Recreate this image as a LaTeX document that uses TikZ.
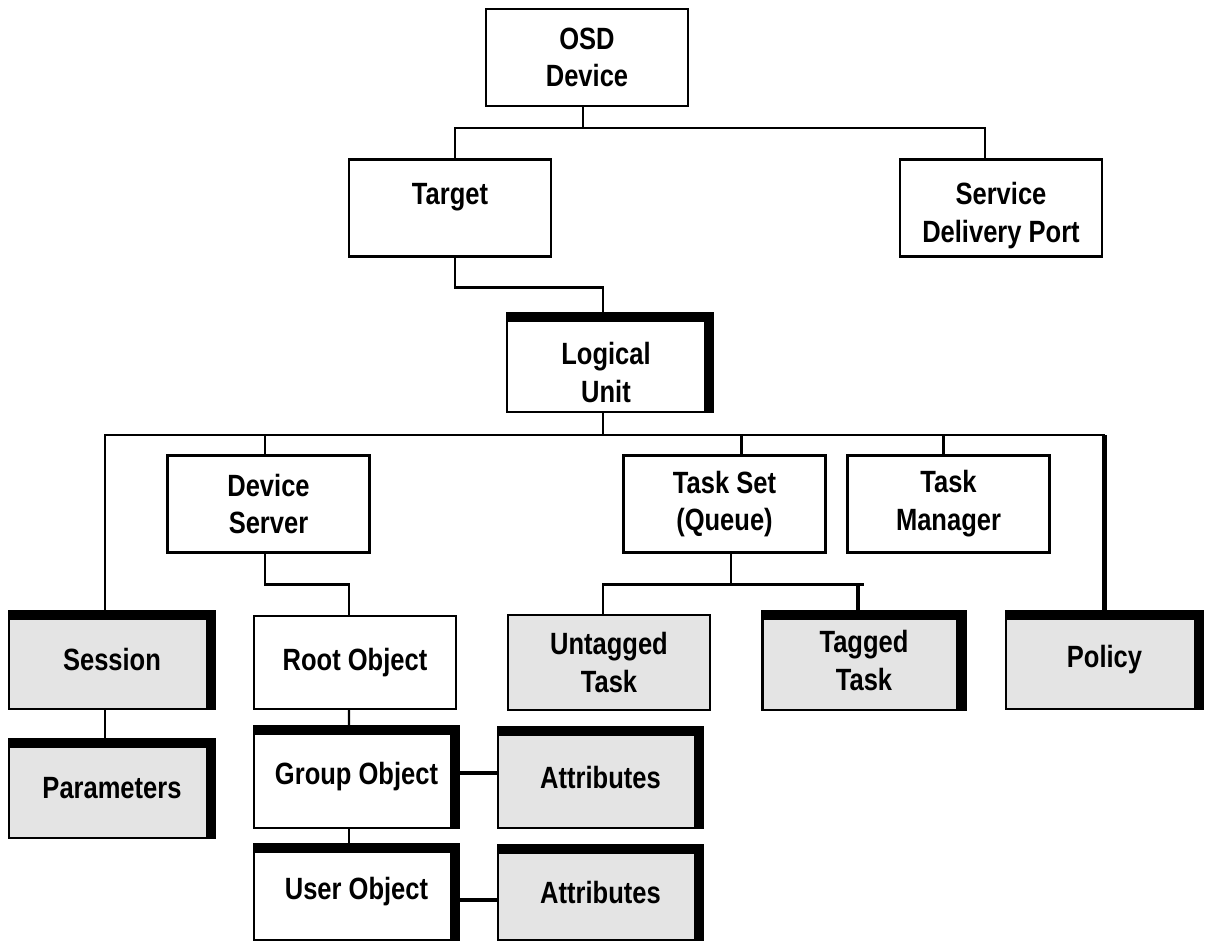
\documentclass[tikz,border=0pt]{standalone}
\usepackage{fontspec}
\setmainfont{Liberation Sans}[FakeStretch=0.83]
\usetikzlibrary{positioning,calc}
\definecolor{boxgrey}{HTML}{E4E4E4}

\begin{document}
\begin{tikzpicture}[
		x=0.02cm,y=-0.02cm,
		every node/.append style={align=center,font=\bfseries\fontsize{17.5}{21.5}\selectfont},
		box/.style={draw,line width=1.4pt,inner sep=0pt,minimum width=4.04cm,minimum height=1.94cm},
		grey/.style={fill=boxgrey},
		heavy/.style={path picture={
			\fill[black] (path picture bounding box.north west) rectangle ([yshift=-0.18cm]path picture bounding box.north east);
			\fill[black] ([xshift=-0.18cm,yshift=-0.12cm]path picture bounding box.north east) rectangle (path picture bounding box.south east);}},
		link/.style={line width=1.4pt},
		fatlink/.style={line width=2.6pt}
	]
	\useasboundingbox (0,0) rectangle (1205,945);

	\node[box] (osd) at (587,57.5) {OSD\\Device};
	\node[box,label={[yshift=0.21cm]center:Target}] (target) at (450,208) {};
	\node[box,label={[yshift=-0.15cm]center:{Service\\Delivery Port}}] (sdp) at (1001,208) {};
	\node[box,heavy,minimum width=4.12cm,minimum height=1.98cm,
		label={[yshift=-0.2cm,xshift=-0.08cm]center:{Logical\\Unit}}] (lu) at (610,362.5) {};

	\node[box] (devsrv) at (268.5,504) {Device\\Server};
	\node[box] (taskset) at (724.5,504) {Task Set\\(Queue)};
	\node[box] (taskmgr) at (948.5,504) {Task\\Manager};

	\node[box,grey,heavy,minimum width=4.12cm,minimum height=1.96cm] (session) at (112,660) {Session};
	\node[box,grey,heavy,minimum width=4.12cm,minimum height=1.98cm] (params) at (112,788.5) {Parameters};
	\node[box,minimum height=1.86cm] (root) at (355,662.5) {Root Object};
	\node[box,heavy,minimum width=4.1cm,minimum height=2.04cm] (group) at (356.5,777) {Group Object};
	\node[box,heavy,minimum width=4.1cm,minimum height=1.92cm] (user) at (356.5,892) {User Object};
	\node[box,grey,heavy,minimum width=4.1cm,minimum height=2.02cm] (attr1) at (600.5,777.5) {Attributes};
	\node[box,grey,heavy,minimum width=4.1cm,minimum height=1.9cm] (attr2) at (600.5,892.5) {Attributes};
	\node[box,grey,minimum height=1.9cm] (untagged) at (609,662.5) {Untagged\\Task};
	\node[box,grey,heavy,minimum width=4.06cm,minimum height=1.98cm] (tagged) at (864,660.5) {Tagged\\Task};
	\node[box,grey,heavy,minimum width=3.94cm,minimum height=1.96cm] (policy) at (1104.5,660) {Policy};

	\draw[link] ([xshift=-0.08cm]osd.south) -- ++(0,21) -| ([xshift=0.1cm]target.north);
	\draw[link] ([xshift=-0.08cm]osd.south) ++(0,21) -| ([xshift=-0.32cm]sdp.north);
	\draw[link] ([xshift=0.1cm]target.south) -- ++(0,30) -| ([xshift=-0.14cm]lu.north);

	\draw[link] ([xshift=-0.14cm]lu.south) -- ++(0,22) coordinate (lubus);
	\foreach \n/\s in {session/-0.14,devsrv/-0.07,taskset/0.34,taskmgr/-0.1}
		\draw[link] (lubus) -| ([xshift=\s cm]\n.north);
	\draw[link] (lubus) -- (lubus -| policy.north);
	\draw[fatlink] (lubus -| policy.north) -- (policy.north);

	\draw[link] ([xshift=-0.14cm]session.south) -- ([xshift=-0.14cm]params.north);
	\draw[link] ([xshift=-0.07cm]devsrv.south) -- ++(0,31) -| ([xshift=-0.12cm]root.north);
	\draw[link] ([xshift=-0.12cm]root.south) -- ([xshift=-0.15cm]group.north);
	\draw[link] ([xshift=-0.15cm]group.south) -- ([xshift=-0.15cm]user.north);

	\draw[link] ([xshift=0.13cm]taskset.south) -- ++(0,31) coordinate (qbus) -| ([xshift=-0.12cm]untagged.north);
	\draw[link] (qbus) -- (qbus -| tagged.north);
	\draw[fatlink] ([xshift=-0.12cm]qbus -| tagged.north) -- ([xshift=-0.12cm]tagged.north);

	\draw[fatlink] ([yshift=0.08cm]group.east) -- ([yshift=0.08cm]group.east -| attr1.west);
	\draw[fatlink] ([yshift=-0.16cm]user.east) -- ([yshift=-0.16cm]user.east -| attr2.west);
\end{tikzpicture}
\end{document}
